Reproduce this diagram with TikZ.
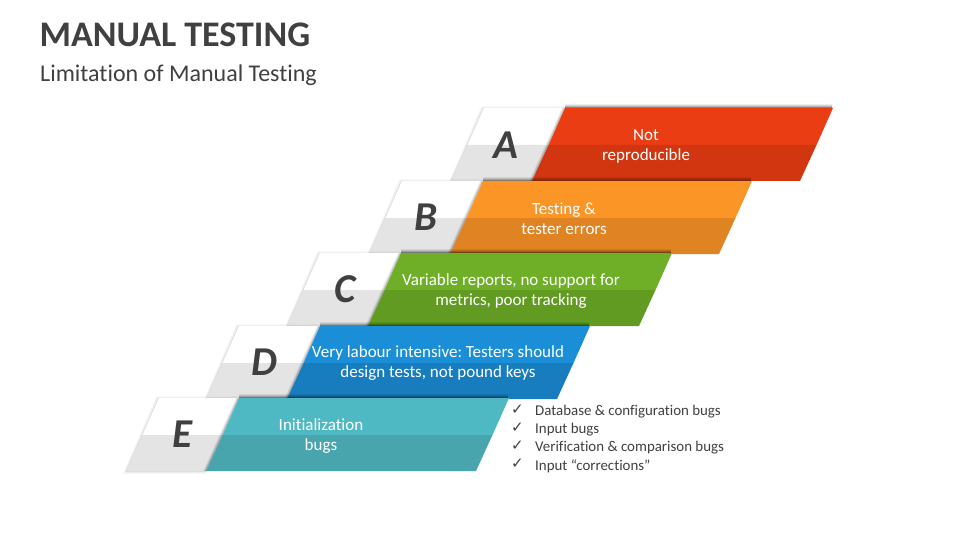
\documentclass[tikz,border=0pt]{standalone}
\usepackage{fontspec}
\setmainfont{Carlito}[Ligatures=NoCommon]
\newfontfamily\checkfont{DejaVu Sans}
\usetikzlibrary{shadings}
\definecolor{inkdark}{HTML}{404040}
\definecolor{tilelow}{HTML}{E4E4E4}
\definecolor{redup}{HTML}{EA3D14}\definecolor{reddn}{HTML}{D13611}
\definecolor{orup}{HTML}{FB9626}\definecolor{ordn}{HTML}{E08323}
\definecolor{grup}{HTML}{6EAF27}\definecolor{grdn}{HTML}{619B22}
\definecolor{blup}{HTML}{1A8FD8}\definecolor{bldn}{HTML}{177DBE}
\definecolor{teup}{HTML}{4FB9C3}\definecolor{tedn}{HTML}{48A5AE}
\tikzset{
  bandtext/.style={text=white,font=\fontsize{17}{20}\selectfont\frenchspacing,align=center,inner sep=0pt},
  letter/.style={text=inkdark,font=\fontsize{41}{44}\selectfont\bfseries\itshape,inner sep=0pt},
  bullet/.style={text=inkdark,font=\fontsize{14.9}{18}\selectfont,anchor=west,inner sep=0pt},
  tick/.style={text=inkdark,font=\fontsize{15}{16}\checkfont,anchor=west,inner sep=0pt},
}
% #1 x of the white tile's top-left, #2 top y, #3 x of top boundary, #4 x of top-right, #5 up colour, #6 down colour
\newcommand{\bandshape}[6]{%
  \foreach \o/\a in {3/0.025,2/0.04,1/0.07}{
    \fill[black,opacity=\a] (#1-\o,#2-\o+1) -- (#3,#2-\o+1) -- (#3-33,#2+73+\o) -- (#1-33-\o,#2+73+\o) -- cycle;
  }
  \foreach \o/\a in {4/0.07,3/0.1,2/0.15,1/0.25}{
    \fill[black,opacity=\a] (#3,#2-\o) rectangle (#4-1,#2);
  }
  \fill[white] (#1,#2) -- (#3,#2) -- (#3-16.5,#2+37) -- (#1-16.5,#2+37) -- cycle;
  \fill[tilelow] (#1-16.5,#2+37) -- (#3-16.5,#2+37) -- (#3-33,#2+73) -- (#1-33,#2+73) -- cycle;
  \foreach \o/\a in {3/0.06,2/0.09,1/0.14}{
    \fill[black,opacity=\a] (#3-\o,#2) -- (#3,#2) -- (#3-33,#2+73) -- (#3-33-\o,#2+73) -- cycle;
  }
  \fill[#5] (#3,#2) -- (#4,#2) -- (#4-16.5,#2+37) -- (#3-16.5,#2+37) -- cycle;
  \fill[#6] (#3-16.5,#2+37) -- (#4-16.5,#2+37) -- (#4-33,#2+73) -- (#3-33,#2+73) -- cycle;
}
\begin{document}
\begin{tikzpicture}[x=1pt,y=-1pt]
\useasboundingbox (0,0) rectangle (960,540);
\fill[white] (0,0) rectangle (960,540);

\node[anchor=west,inner sep=0pt,text=inkdark,font=\fontsize{36}{40}\selectfont\bfseries] (title) at (39.5,35) {MANUAL TESTING};
\node[anchor=west,inner sep=0pt,text=inkdark,font=\fontsize{24}{28}\selectfont] (subtitle) at (40,75) {Limitation of Manual Testing};

\bandshape{484}{108}{565}{833}{redup}{reddn}
\bandshape{402}{181}{483}{752}{orup}{ordn}
\bandshape{320}{253}{401}{672}{grup}{grdn}
\bandshape{239}{326}{320}{590}{blup}{bldn}
\bandshape{159}{398}{239}{509}{teup}{tedn}

\node[letter] (la) at (506,145.5) {A};
\node[letter] (lb) at (426,217.5) {B};
\node[letter] (lc) at (345,289.5) {C};
\node[letter] (ld) at (264,362.5) {D};
\node[letter] (le) at (182,434.5) {E};

\node[bandtext] (ta) at (646,146.5) {Not\\reproducible};
\node[bandtext] (tb) at (564,219) {Testing \&\\tester errors};
\node[bandtext] (tc) at (511,291) {Variable reports, no support for\\metrics, poor tracking};
\node[bandtext] (td) at (438,363) {Very labour intensive: Testers should\\design tests, not pound keys};
\node[bandtext] (te) at (321,436) {Initialization\\bugs};

\node[tick] (c1) at (511,410) {✓};
\node[tick] (c2) at (511,428) {✓};
\node[tick] (c3) at (511,446) {✓};
\node[tick] (c4) at (511,464) {✓};
\node[bullet] (b1) at (535,412) {Database \& configuration bugs};
\node[bullet] (b2) at (535,430) {Input bugs};
\node[bullet] (b3) at (535,448) {Verification \& comparison bugs};
\node[bullet] (b4) at (535,466) {Input “corrections”};
\end{tikzpicture}
\end{document}
